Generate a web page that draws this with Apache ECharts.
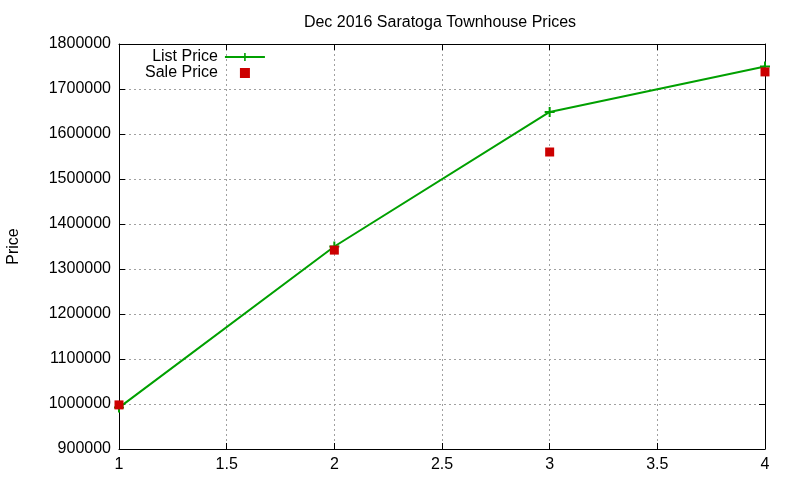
<!DOCTYPE html>
<html>
<head>
<meta charset="utf-8">
<script src="https://cdn.jsdelivr.net/npm/echarts@6/dist/echarts.min.js"></script>
<style>
  html, body { margin: 0; padding: 0; background: #fff; }
  #chart { width: 800px; height: 480px; }
</style>
</head>
<body>
<div id="chart"></div>
<script>
const xValues = [1, 2, 3, 4]
const listPrice = [992000, 1350000, 1649000, 1750000]
const salePrice = [998000, 1342000, 1560000, 1738000]

const font = 'Liberation Sans, Arial, sans-serif'
const plusPath = 'path://M4,0H6V4H10V6H6V10H4V6H0V4H4Z'
const squarePath = 'path://M0,0H10V10H0Z'

const splitLine = { show: true, lineStyle: { color: '#a0a0a0', type: [2, 3], width: 1 } }
const axisLine = { show: true, lineStyle: { color: '#000', width: 1 } }
const axisTick = { show: true, inside: true, length: 6, lineStyle: { color: '#000' } }
const labelStyle = { fontFamily: font, fontSize: 16, color: '#000', margin: 8 }

const myChart = echarts.init(document.getElementById('chart'))
myChart.setOption({
  animation: false,
  backgroundColor: '#fff',
  title: {
    text: 'Dec 2016 Saratoga Townhouse Prices',
    left: 435,
    top: 10,
    textAlign: 'center',
    textStyle: { fontFamily: font, fontSize: 16, fontWeight: 'normal', color: '#000' },
  },
  legend: {
    left: 140,
    top: 44,
    orient: 'vertical',
    align: 'right',
    itemGap: 0,
    itemWidth: 40,
    itemHeight: 10,
    textStyle: { fontFamily: font, fontSize: 16, color: '#000', padding: [0, 2, 0, 0] },
    data: [
      { name: 'List Price' },
      { name: 'Sale Price', icon: squarePath },
    ],
  },
  grid: { left: 119, right: 35, top: 44, bottom: 31, outerBoundsMode: 'none', containLabel: false },
  xAxis: [
    {
      type: 'value',
      min: 1,
      max: 4,
      interval: 0.5,
      axisLine,
      axisTick,
      splitLine,
      axisLabel: labelStyle,
    },
    {
      type: 'value',
      position: 'top',
      min: 1,
      max: 4,
      interval: 0.5,
      axisLine,
      axisTick,
      splitLine: { show: false },
      axisLabel: { show: false },
    },
  ],
  yAxis: [
    {
      type: 'value',
      name: 'Price',
      nameLocation: 'middle',
      nameGap: 97,
      nameRotate: 90,
      nameTextStyle: { fontFamily: font, fontSize: 16, color: '#000' },
      min: 900000,
      max: 1800000,
      interval: 100000,
      axisLine,
      axisTick,
      splitLine,
      axisLabel: { ...labelStyle, formatter: (v) => String(v) },
    },
    {
      type: 'value',
      position: 'right',
      min: 900000,
      max: 1800000,
      interval: 100000,
      axisLine,
      axisTick,
      splitLine: { show: false },
      axisLabel: { show: false },
    },
  ],
  series: [
    {
      name: 'List Price',
      type: 'line',
      data: xValues.map((x, i) => [x, listPrice[i]]),
      symbol: plusPath,
      symbolSize: 10,
      showAllSymbol: true,
      itemStyle: { color: '#00a000' },
      lineStyle: { color: '#00a000', width: 2 },
      z: 3,
    },
    {
      name: 'Sale Price',
      type: 'scatter',
      data: xValues.map((x, i) => [x, salePrice[i]]),
      symbol: 'rect',
      symbolSize: 9,
      itemStyle: { color: '#cc0000', opacity: 1 },
      z: 4,
    },
  ],
})
</script>
</body>
</html>
